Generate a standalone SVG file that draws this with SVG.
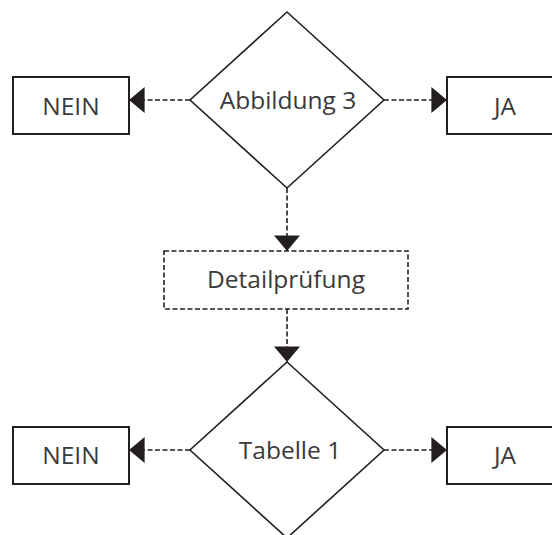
<svg xmlns="http://www.w3.org/2000/svg" width="552" height="535" viewBox="0 0 552 535">
<style>
  .box { fill: #ffffff; stroke: #231f20; stroke-width: 2; }
  .dbox { fill: #ffffff; stroke: #231f20; stroke-width: 1.6; stroke-dasharray: 5 2.5; }
  .dia { fill: #ffffff; stroke: #231f20; stroke-width: 1.6; }
  .conn { fill: none; stroke: #231f20; stroke-width: 1.6; stroke-dasharray: 5 2.5; }
  .lbl { font-family: "Open Sans", "Noto Sans", sans-serif; font-size: 24.5px; fill: #3a3a3a; text-anchor: middle; }
</style>
<defs>
  <marker id="arr" markerUnits="userSpaceOnUse" markerWidth="16" markerHeight="26" viewBox="0 0 15 25" refX="15" refY="12.5" orient="auto">
    <path d="M0,0 L15,12.5 L0,25 Z" fill="#231f20"/>
  </marker>
</defs>
<rect width="552" height="535" fill="#ffffff"/>
<g id="connectors">
  <line class="conn" x1="190" y1="100" x2="129" y2="100" marker-end="url(#arr)"/>
  <line class="conn" x1="384" y1="100" x2="447" y2="100" marker-end="url(#arr)"/>
  <line class="conn" x1="287" y1="188" x2="287" y2="251" marker-end="url(#arr)"/>
  <line class="conn" x1="287" y1="309" x2="287" y2="362" marker-end="url(#arr)"/>
  <line class="conn" x1="190" y1="450" x2="129" y2="450" marker-end="url(#arr)"/>
  <line class="conn" x1="384" y1="450" x2="447" y2="450" marker-end="url(#arr)"/>
</g>
<g id="dec1">
  <polygon class="dia" points="287,12 384,100 287,188 190,100"/>
  <text class="lbl" x="288" y="109">Abbildung 3</text>
</g>
<g id="nein1">
  <rect class="box" x="13" y="77" width="116" height="57"/>
  <text class="lbl" x="71" y="115">NEIN</text>
</g>
<g id="ja1">
  <rect class="box" x="447" y="77" width="116" height="57"/>
  <text class="lbl" x="505" y="115">JA</text>
</g>
<g id="detail">
  <rect class="dbox" x="164" y="251" width="244" height="58"/>
  <text class="lbl" x="286" y="288">Detailprüfung</text>
</g>
<g id="dec2">
  <polygon class="dia" points="287,362 384,450 287,538 190,450"/>
  <text class="lbl" x="290" y="459">Tabelle 1</text>
</g>
<g id="nein2">
  <rect class="box" x="13" y="427" width="116" height="57"/>
  <text class="lbl" x="71" y="464">NEIN</text>
</g>
<g id="ja2">
  <rect class="box" x="447" y="427" width="116" height="57"/>
  <text class="lbl" x="505" y="464">JA</text>
</g>
</svg>
